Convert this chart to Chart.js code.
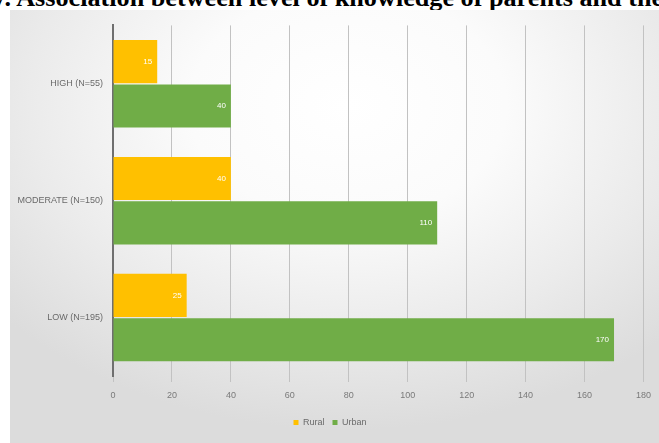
<!DOCTYPE html>
<html>
<head>
<meta charset="utf-8">
<script src="https://cdn.jsdelivr.net/npm/chart.js@4"></script>
<style>
  html, body { margin: 0; padding: 0; background: #ffffff; width: 659px; height: 443px; overflow: hidden; }
  #title {
    position: absolute; left: -11px; top: -15px; width: 670px;
    font: bold 26.2px "Liberation Serif", "Times New Roman", serif;
    line-height: 26.2px; color: #000; white-space: nowrap; overflow: hidden;
  }
  #wrap {
    position: absolute; left: 10px; top: 10px; width: 649px; height: 433px;
    background: radial-gradient(ellipse 70% 75% at 52% 22%, #ffffff 0%, #fbfbfb 35%, #ebebeb 70%, #dcdcdc 100%);
  }
</style>
</head>
<body>
<div id="title">V. Association between level of knowledge of parents and their children</div>
<div id="wrap"><canvas id="c" width="649" height="433"></canvas></div>
<script>
// Knowledge level groups with group sizes
const categories = ['HIGH (N=55)', 'MODERATE (N=150)', 'LOW (N=195)'];
const seriesNames = ['Rural', 'Urban'];
const ruralValues = [15, 40, 25];
const urbanValues = [40, 110, 170];
const xTicks = [0, 20, 40, 60, 80, 100, 120, 140, 160, 180];

const fontFamily = '"Liberation Sans", Arial, sans-serif';

// Writes each bar's value in white just inside its end
const valueLabels = {
  id: 'valueLabels',
  afterDatasetsDraw(chart) {
    const ctx = chart.ctx;
    ctx.save();
    ctx.font = '8px ' + fontFamily;
    ctx.fillStyle = '#ffffff';
    ctx.textAlign = 'right';
    ctx.textBaseline = 'middle';
    chart.data.datasets.forEach((ds, i) => {
      chart.getDatasetMeta(i).data.forEach((bar, j) => {
        ctx.fillText(String(ds.data[j]), bar.x - 5, bar.y);
      });
    });
    ctx.restore();
  }
};

new Chart(document.getElementById('c'), {
  type: 'bar',
  data: {
    labels: categories,
    datasets: [
      { label: seriesNames[0], data: ruralValues, backgroundColor: '#FFC000' },
      { label: seriesNames[1], data: urbanValues, backgroundColor: '#70AD47' }
    ]
  },
  options: {
    indexAxis: 'y',
    responsive: false,
    animation: false,
    devicePixelRatio: 1,
    layout: { padding: { left: 0, right: 9, top: 15, bottom: 6 } },
    categoryPercentage: 0.76,
    barPercentage: 0.97,
    scales: {
      x: {
        min: 0, max: 180,
        afterBuildTicks(scale) { scale.ticks = xTicks.map(v => ({ value: v })); },
        grid: { color: '#c2c2c2', lineWidth: 1, tickLength: 6, drawTicks: true },
        border: { display: false },
        ticks: { color: '#7a7a7a', font: { family: fontFamily, size: 9 }, padding: 8 },
        afterFit(scale) { scale.height = 34; }
      },
      y: {
        grid: { display: false, drawTicks: false },
        border: { display: true, color: '#6f6f6f', width: 2 },
        ticks: { color: '#6a6a6a', font: { family: fontFamily, size: 9 }, padding: 10 },
        afterFit(scale) { scale.width = 103; }
      }
    },
    plugins: {
      legend: {
        position: 'bottom',
        labels: {
          color: '#6a6a6a', font: { family: fontFamily, size: 9 },
          boxWidth: 5, boxHeight: 5, padding: 8
        }
      },
      tooltip: { enabled: false }
    }
  },
  plugins: [valueLabels]
});
</script>
</body>
</html>
